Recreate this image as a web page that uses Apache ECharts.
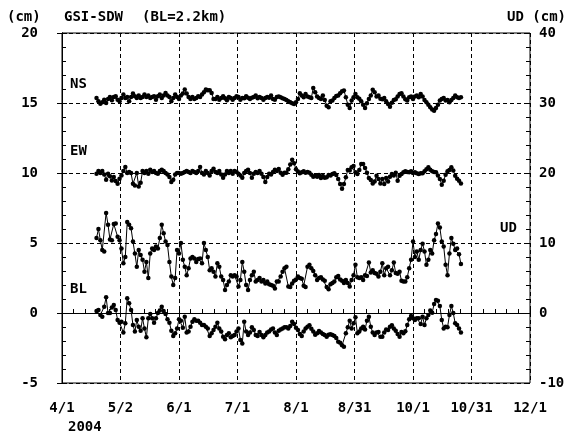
<!DOCTYPE html>
<html>
<head>
<meta charset="utf-8">
<script src="https://cdn.jsdelivr.net/npm/echarts@6/dist/echarts.min.js"></script>
<style>
  html, body { margin: 0; padding: 0; background: #fff; }
  #chart { width: 579px; height: 433px; }
</style>
</head>
<body>
<div id="chart"></div>
<script>
// Day 0 = 2004-04-01; daily values start at day 18 (4/19)
const START_DAY = 18;
const X_TICK_LABELS = ['4/1', '5/2', '6/1', '7/1', '8/1', '8/31', '10/1', '10/31', '12/1'];

// NS, EW, BL on the left axis (cm); UD on the right axis (cm)
const NS = [
  15.36,15.12,14.95,15.05,15.24,15.0,15.29,15.43,15.19,15.43,
  15.48,15.24,15.12,15.36,15.6,15.36,15.43,15.12,15.43,15.67,
  15.48,15.36,15.53,15.36,15.43,15.6,15.43,15.53,15.36,15.43,
  15.48,15.24,15.48,15.6,15.36,15.53,15.72,15.53,15.43,15.12,
  15.36,15.6,15.43,15.29,15.53,15.67,15.96,15.67,15.43,15.29,
  15.43,15.29,15.36,15.48,15.43,15.6,15.77,15.96,15.91,15.91,
  15.72,15.29,15.29,15.43,15.24,15.36,15.48,15.34,15.19,15.43,
  15.36,15.24,15.36,15.48,15.43,15.24,15.36,15.34,15.48,15.38,
  15.29,15.38,15.43,15.53,15.34,15.43,15.36,15.24,15.36,15.43,
  15.38,15.53,15.29,15.24,15.43,
  15.46,15.41,15.34,15.29,15.22,15.12,15.05,14.98,14.93,15.05,
  15.29,15.7,15.53,15.41,15.65,15.46,15.41,15.36,16.08,15.77,
  15.46,15.36,15.29,15.53,15.22,14.81,14.69,15.12,15.17,15.36,
  15.5,15.53,15.7,15.84,15.89,15.41,14.88,14.64,15.17,15.41,
  15.65,15.41,15.31,15.12,14.88,14.64,14.98,15.29,15.53,15.94,
  15.77,15.46,15.53,15.31,15.26,15.36,15.12,14.93,14.74,15.02,
  15.22,15.26,15.46,15.65,15.7,15.46,15.26,15.17,15.41,15.46,
  15.29,15.46,15.53,15.41,15.65,15.46,15.22,15.05,14.88,14.69,
  14.54,14.45,14.64,14.88,15.17,15.29,15.36,15.17,15.22,15.05,
  15.22,15.36,15.53,15.41,15.36,15.41
];
const EW = [
  9.95,10.14,10.0,10.14,9.9,9.52,9.95,9.76,9.47,9.71,
  9.42,9.23,9.59,9.83,10.14,10.43,10.0,10.07,10.0,9.23,
  9.1,10.0,9.04,9.3,10.14,10.0,10.14,9.95,10.24,10.07,
  10.14,10.0,9.95,10.14,10.24,10.14,10.0,9.9,9.71,9.35,
  9.52,9.9,10.0,10.0,9.95,10.0,10.07,10.14,10.07,10.0,
  10.14,10.07,10.0,10.14,10.43,10.0,9.9,10.14,10.0,9.83,
  10.14,10.31,10.07,10.0,10.14,9.9,9.66,9.9,10.14,10.0,
  10.14,9.95,10.14,10.07,9.95,9.83,9.66,10.0,10.14,10.24,
  10.0,9.66,9.95,10.07,10.0,10.14,9.95,9.71,9.35,9.71,
  9.95,9.9,10.07,10.24,10.14,
  10.29,10.02,9.88,10.02,10.02,10.26,10.6,10.94,10.7,10.26,
  10.1,9.98,10.05,10.12,10.02,10.07,10.02,9.88,9.74,9.81,
  9.74,9.86,9.64,9.78,9.66,9.69,9.86,9.83,9.93,9.98,
  9.86,9.57,9.21,8.87,9.21,9.69,10.22,10.17,10.41,10.5,
  10.05,9.93,10.22,10.65,10.65,10.36,10.02,9.64,9.5,9.25,
  9.4,9.81,9.57,9.25,9.57,9.21,9.64,9.4,9.74,9.93,
  9.83,10.02,9.45,9.81,9.93,10.05,10.12,10.07,10.05,10.12,
  10.0,10.05,9.98,9.93,9.98,9.98,10.12,10.26,10.41,10.24,
  10.12,10.07,10.05,9.83,9.57,9.16,9.45,9.88,10.12,10.22,
  10.41,10.17,9.81,9.59,9.45,9.25
];
const UD = [
  10.7,12.0,10.4,9.0,8.8,14.3,12.6,10.5,10.4,12.7,
  12.8,10.9,10.4,9.2,7.1,8.0,13.0,12.6,12.1,10.2,
  8.5,6.6,9.0,8.3,7.6,5.9,7.3,5.0,8.5,9.2,
  9.0,9.5,9.2,10.7,12.6,11.4,10.2,9.7,7.3,5.2,
  4.0,5.0,9.0,8.5,10.0,7.6,6.6,5.4,6.4,7.8,
  8.0,7.8,7.3,7.7,7.8,7.1,10.0,9.0,8.0,6.1,
  6.4,5.9,5.2,7.1,6.6,5.2,4.7,3.3,4.0,4.5,
  5.4,5.2,5.4,5.2,3.8,4.7,7.3,5.9,4.0,3.3,
  4.7,5.4,5.9,4.5,4.7,5.0,4.5,4.7,4.2,4.5,
  4.1,4.0,3.9,3.5,4.5,
  4.5,5.2,5.9,6.4,6.6,3.8,3.7,4.2,4.6,4.8,
  5.2,5.0,4.9,3.9,3.7,6.6,6.9,6.4,6.0,5.4,
  4.7,5.0,5.1,4.8,4.6,3.7,3.4,4.1,4.3,4.5,
  5.1,5.3,4.8,4.6,4.3,4.7,4.3,3.8,4.7,5.4,
  6.9,5.1,5.0,5.1,4.7,5.4,5.3,7.2,5.8,6.1,
  5.7,5.6,5.2,5.9,7.1,5.4,6.4,6.6,5.4,6.1,
  7.2,5.7,5.6,5.9,4.6,4.5,4.5,5.1,6.4,7.6,
  10.2,8.0,8.8,7.6,9.0,9.9,8.8,6.9,7.6,9.0,
  8.5,10.4,11.3,12.8,12.2,10.2,9.5,6.9,5.4,8.5,
  10.7,9.9,9.0,9.2,8.4,7.0
];
const BL = [
  0.14,0.21,-0.14,-0.26,0.45,1.12,0.0,0.0,0.4,0.57,
  0.21,-0.5,-0.69,-0.62,-1.4,-0.74,1.05,0.69,0.21,-0.86,
  -1.33,-0.5,-0.98,-1.26,-0.38,-1.1,-1.74,-0.38,-0.07,-0.38,
  -0.69,-0.38,0.0,0.17,0.45,0.14,-0.07,-0.45,-0.69,-1.26,
  -1.64,-1.45,-1.1,-0.45,-0.55,-1.05,-0.26,-1.4,-1.33,-0.98,
  -0.62,-0.45,-0.55,-0.55,-0.69,-0.86,-0.86,-0.98,-1.1,-1.64,
  -1.45,-1.21,-0.98,-0.69,-1.1,-1.33,-1.69,-1.88,-1.57,-1.45,
  -1.74,-1.64,-1.57,-1.33,-1.1,-1.93,-2.17,-0.62,-1.33,-1.57,
  -1.4,-1.02,-1.21,-1.57,-1.64,-1.36,-1.57,-1.74,-1.57,-1.4,
  -1.33,-1.17,-1.1,-1.4,-1.57,
  -1.26,-1.17,-1.1,-1.02,-1.02,-1.1,-0.93,-0.62,-0.79,-1.05,
  -1.21,-1.5,-1.64,-1.33,-1.1,-0.98,-0.88,-1.12,-1.33,-1.55,
  -1.45,-1.29,-1.4,-1.5,-1.57,-1.69,-1.55,-1.52,-1.57,-1.64,
  -1.79,-2.05,-2.12,-2.31,-2.41,-1.45,-1.02,-0.55,-1.1,-0.74,
  -0.31,-1.45,-1.33,-1.1,-0.98,-1.17,-0.55,-0.26,-0.98,-1.4,
  -1.57,-1.4,-1.36,-1.69,-1.69,-1.4,-1.17,-1.21,-0.98,-0.88,
  -1.1,-1.26,-1.5,-1.69,-1.36,-1.45,-1.31,-0.86,-0.45,-0.21,
  -0.38,-0.5,-0.38,-0.38,-0.79,-0.26,-0.86,-0.38,-0.14,0.17,
  0.02,0.64,0.93,0.88,0.5,-0.5,-1.1,-0.98,-1.02,-0.14,
  0.5,0.0,-0.74,-0.86,-1.1,-1.4
];

const FONT = "'DejaVu Sans Mono', monospace";
const toPairs = (arr) => arr.map((v, i) => [START_DAY + i, v]);
const dash = { color: '#000', width: 1, type: [4, 3] };
const tickStyle = { color: '#000', width: 1 };
const labelStyle = { color: '#000', fontFamily: FONT, fontWeight: 'bold', fontSize: 14 };

const chart = echarts.init(document.getElementById('chart'), null, { renderer: 'canvas' });

const txt = (text, left, top) => ({
  type: 'text', left, top, z: 100,
  style: { text, fill: '#000', font: `bold 14px ${FONT}` },
});

// tick-only axes: small inward ticks between the labelled ones
const tickOnlyAxis = (extra) => Object.assign({
  type: 'value',
  axisLine: { show: false },
  axisTick: { show: true, inside: true, length: 4, lineStyle: tickStyle },
  axisLabel: { show: false },
  splitLine: { show: false },
}, extra);

const lineSeries = (name, arr, yAxisIndex) => ({
  name, type: 'line', yAxisIndex,
  data: toPairs(arr),
  symbol: 'circle', symbolSize: 4.5,
  lineStyle: { color: '#000', width: 1 },
  itemStyle: { color: '#000' },
  silent: true,
});

chart.setOption({
  animation: false,
  backgroundColor: '#fff',
  grid: { left: 62, right: 49, top: 33, bottom: 50, show: true, borderColor: '#000', borderWidth: 1 },
  xAxis: [
    {
      type: 'value', min: 0, max: 244, interval: 30.5,
      axisLine: { lineStyle: { color: '#000', width: 1 } },
      axisTick: { show: true, inside: true, length: 5, lineStyle: tickStyle },
      splitLine: { show: true, lineStyle: dash },
      axisLabel: Object.assign({}, labelStyle, {
        margin: 18,
        formatter: (v) => X_TICK_LABELS[Math.round(v / 30.5)] || '',
      }),
    },
    tickOnlyAxis({ min: 0, max: 244, interval: 6.1, position: 'bottom' }),
  ],
  yAxis: [
    {
      type: 'value', min: -5, max: 20, interval: 5, position: 'left',
      axisLine: { show: true, lineStyle: { color: '#000', width: 1 } },
      axisTick: { show: true, inside: true, length: 5, lineStyle: tickStyle },
      splitLine: { show: true, lineStyle: dash },
      axisLabel: Object.assign({}, labelStyle, { margin: 24 }),
    },
    {
      type: 'value', min: -10, max: 40, interval: 10, position: 'right',
      axisLine: { show: true, lineStyle: { color: '#000', width: 1 } },
      axisTick: { show: true, inside: true, length: 5, lineStyle: tickStyle },
      splitLine: { show: false },
      axisLabel: Object.assign({}, labelStyle, { margin: 9 }),
    },
    tickOnlyAxis({ min: -5, max: 20, interval: 1, position: 'left' }),
    tickOnlyAxis({ min: -10, max: 40, interval: 2, position: 'right' }),
  ],
  graphic: [
    txt('(cm)', 7, 10),
    txt('GSI-SDW', 64, 10),
    txt('(BL=2.2km)', 142, 10),
    txt('UD (cm)', 507, 10),
    txt('NS', 70, 77),
    txt('EW', 70, 144),
    txt('UD', 500, 221),
    txt('BL', 70, 282),
    txt('2004', 68, 420),
  ],
  series: [
    lineSeries('NS', NS, 0),
    lineSeries('EW', EW, 0),
    lineSeries('UD', UD, 1),
    lineSeries('BL', BL, 0),
  ],
});
</script>
</body>
</html>
